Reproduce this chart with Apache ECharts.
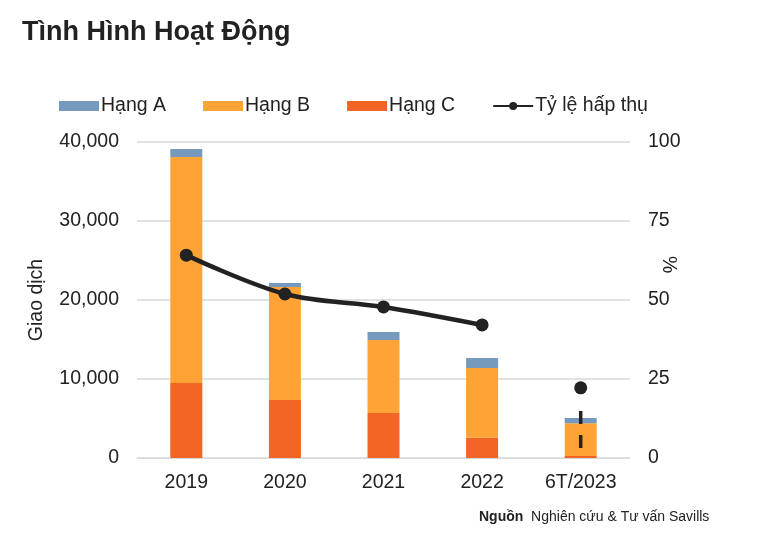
<!DOCTYPE html>
<html><head><meta charset="utf-8">
<script src="https://cdn.jsdelivr.net/npm/echarts@6/dist/echarts.min.js"></script>
<style>html,body{margin:0;padding:0;background:#fff}#c{width:761px;height:546px}</style>
</head><body><div id="c"></div>
<script>
const categories = ['2019', '2020', '2021', '2022', '6T/2023'];
const hangA = [1000, 500, 1000, 1250, 650];
const hangB = [28600, 14300, 9250, 8850, 4150];
const hangC = [9500, 7350, 5700, 2550, 250];
const tyLe = [64.2, 51.9, 47.8, 42.1, null];
const tyLe6T = [null, null, null, null, 22.2];
const tyLe6TRange = [3.2, 15.5];
const leftTicks = [0, 10000, 20000, 30000, 40000];
const rightTicks = [0, 25, 50, 75, 100];

const font = 'Liberation Sans, Arial, sans-serif';
const fs = 19.5;
const chart = echarts.init(document.getElementById('c'));
chart.setOption({
  animation: false,
  textStyle: { fontFamily: font },
  title: { text: 'Tình Hình Hoạt Động', left: 17, top: 14,
    textStyle: { fontSize: 27, fontWeight: 'bold', color: '#222', fontFamily: font } },
  legend: {
    left: 54, top: 91, itemWidth: 40, itemHeight: 10, itemGap: 37,
    textStyle: { fontSize: fs, color: '#222', fontFamily: font, padding: [0, 0, 0, -3] },
    data: [
      { name: 'Hạng A', icon: 'rect' },
      { name: 'Hạng B', icon: 'rect' },
      { name: 'Hạng C', icon: 'rect' },
      { name: 'Tỷ lệ hấp thụ' }
    ]
  },
  grid: { left: 137, right: 131, top: 142, bottom: 88 },
  xAxis: {
    type: 'category', data: categories,
    axisLine: { lineStyle: { color: '#d9d9d9', width: 1 } },
    axisTick: { show: false },
    axisLabel: { fontSize: fs, color: '#222', margin: 15 }
  },
  yAxis: [
    { type: 'value', min: leftTicks[0], max: leftTicks[leftTicks.length - 1], interval: 10000,
      name: 'Giao dịch', nameLocation: 'middle', nameGap: 90,
      nameTextStyle: { fontSize: fs, color: '#222' },
      axisLabel: { fontSize: fs, color: '#222', margin: 18,
        formatter: v => v.toLocaleString('en-US') },
      splitLine: { lineStyle: { color: '#d9d9d9', width: 1.5 } },
      axisLine: { show: false }, axisTick: { show: false } },
    { type: 'value', min: rightTicks[0], max: rightTicks[rightTicks.length - 1], interval: 25,
      axisLabel: { fontSize: fs, color: '#222', margin: 18 },
      splitLine: { show: false }, axisLine: { show: false }, axisTick: { show: false } }
  ],
  graphic: [
    { type: 'text', left: 658, top: 256, rotation: -Math.PI / 2,
      style: { text: '%', font: fs + 'px ' + font, fill: '#222' } },
    { type: 'text', left: 479, top: 510,
      style: { text: '{b|Nguồn}  Nghiên cứu & Tư vấn Savills',
        font: '14px ' + font, fill: '#222',
        rich: { b: { fontWeight: 'bold', fontSize: 14, fontFamily: font, fill: '#222' } } } }
  ],
  series: [
    { name: 'Hạng C', type: 'bar', stack: 's', data: hangC, barWidth: 32,
      itemStyle: { color: '#F26524' } },
    { name: 'Hạng B', type: 'bar', stack: 's', data: hangB,
      itemStyle: { color: '#FFA336' } },
    { name: 'Hạng A', type: 'bar', stack: 's', data: hangA,
      itemStyle: { color: '#7699BE' } },
    { name: 'Tỷ lệ hấp thụ', type: 'line', yAxisIndex: 1, data: tyLe, smooth: 0.35,
      symbol: 'circle', symbolSize: 13, connectNulls: false,
      lineStyle: { color: '#222', width: 4.5 }, itemStyle: { color: '#222' } },
    { name: 'Tỷ lệ hấp thụ', type: 'line', yAxisIndex: 1, data: tyLe6T,
      symbol: 'circle', symbolSize: 13,
      lineStyle: { color: '#222', width: 4.5 }, itemStyle: { color: '#222' } },
    { name: 'range', type: 'line', yAxisIndex: 1, symbol: 'none',
      data: tyLe6TRange.map(v => ['6T/2023', v]),
      lineStyle: { color: '#222', width: 3.5, type: [13, 11] } }
  ]
});
</script></body></html>
